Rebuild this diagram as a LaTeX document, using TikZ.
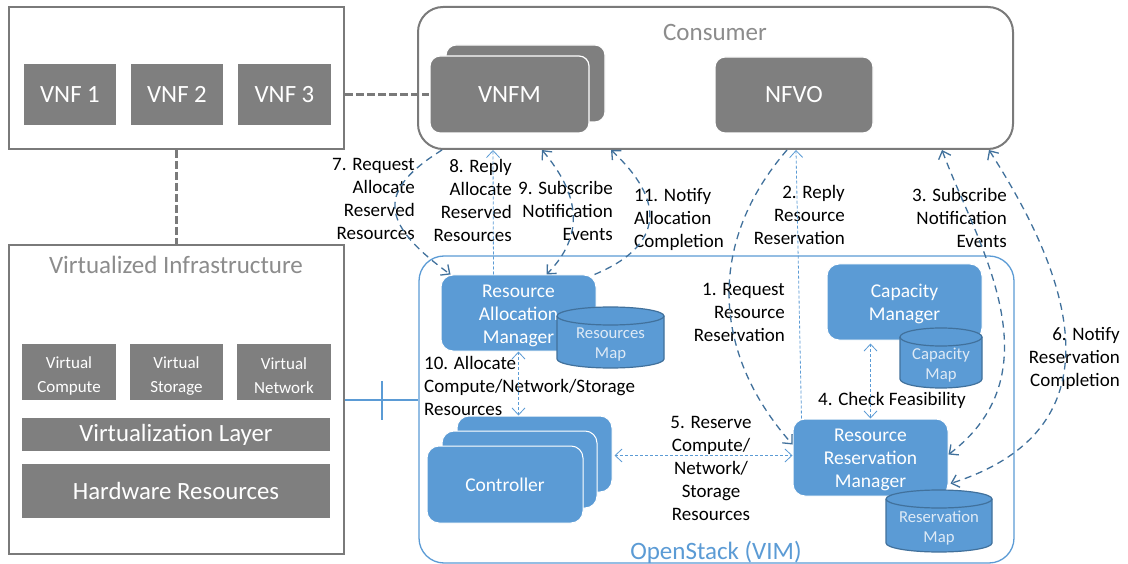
\documentclass[tikz,border=0pt]{standalone}
\usepackage{fontspec}
\setmainfont{Carlito}
\usetikzlibrary{arrows.meta}
\definecolor{gbox}{HTML}{7F7F7F}
\definecolor{gline}{HTML}{7A7A7A}
\definecolor{bfill}{HTML}{5B9BD5}
\definecolor{bdark}{HTML}{41719C}
\definecolor{gtext}{HTML}{8C8C8C}
\definecolor{lighttxt}{HTML}{DEEAF6}
\newcommand{\tallstrut}{\rule{0pt}{18pt}}
\newcommand{\tallerstrut}{\rule{0pt}{19.5pt}}
\tikzset{
  x=1pt,y=-1pt,
  frame/.style={draw=gline,line width=2pt,fill=white,inner sep=0pt},
  vibox/.style={fill=gbox,text=white,inner sep=0pt,align=center,font=\fontsize{24.8}{28}\selectfont},
  vsmall/.style={vibox,font=\fontsize{17}{24}\selectfont},
  gbig/.style={fill=gbox,draw=white,line width=1.2pt,rounded corners=10pt,text=white,inner sep=0pt,font=\fontsize{24.8}{28}\selectfont},
  bbox/.style={fill=bfill,draw=white,line width=1pt,rounded corners=12pt,text=white,inner sep=0pt,align=center,font=\fontsize{19.5}{23}\selectfont},
  cylbody/.style={draw=bdark,line width=1.2pt,fill=bfill},
  cyltext/.style={text=lighttxt,inner sep=0pt,align=center,font=\fontsize{16.7}{20}\selectfont},
  titletxt/.style={inner sep=0pt,font=\fontsize{25}{28}\selectfont},
  lbl/.style={inner sep=0pt,text=black,font=\fontsize{19}{23}\selectfont},
  lblr/.style={lbl,align=right,anchor=north east},
  lbll/.style={lbl,align=left,anchor=north west},
  darkflow/.style={draw=bdark,line width=1.3pt,dash pattern=on 7pt off 5pt},
  lightflow/.style={draw=bfill,line width=0.8pt,dash pattern=on 3pt off 2pt},
  greyconn/.style={draw=gline,line width=2.2pt,dash pattern=on 8pt off 3pt},
  blueline/.style={draw=bfill,line width=1.6pt},
  ah/.tip={Straight Barb[length=7pt,width=13pt]}
}
% name, left x, top y, width, height, text
\newcommand{\cylnode}[6]{%
  \draw[cylbody] (#2,{#3+9}) -- ++(0,{#5-18})
     arc[start angle=180,end angle=360,x radius={#4/2*1pt},y radius=9pt]
     -- ++(0,{18-#5})
     arc[start angle=0,end angle=180,x radius={#4/2*1pt},y radius=9pt] -- cycle;
  \draw[cylbody,fill=none] (#2,{#3+9})
     arc[start angle=180,end angle=360,x radius={#4/2*1pt},y radius=9pt];
  \node[cyltext] (#1) at ({#2+#4/2},{#3+#5/2+7}) {#6};
}
\begin{document}
\begin{tikzpicture}
\useasboundingbox (0,0) rectangle (1128,564);
% frames
\node[frame,minimum width=335,minimum height=142] (vnfframe) at (176.5,78) {};
\node[frame,rounded corners=25pt,minimum width=595,minimum height=142] (consumer) at (715.5,78) {};
\node[titletxt,text=gtext] (consumertxt) at (715,32) {Consumer};
\node[frame,minimum width=335,minimum height=309] (vi) at (176.5,399.5) {};
\node[titletxt,text=gtext] (vitxt) at (176,265) {Virtualized Infrastructure};
\node[draw=bfill,line width=1.3pt,rounded corners=25pt,fill=white,inner sep=0pt,minimum width=595,minimum height=307] (vim) at (716.5,409.5) {};
\node[titletxt,text=bfill] (vimtxt) at (716,552) {OpenStack (VIM)};
% VNFs
\node[vibox,minimum width=92,minimum height=61] (v1) at (70,94.5) {VNF 1};
\node[vibox,minimum width=92,minimum height=61] (v2) at (177,94.5) {VNF 2};
\node[vibox,minimum width=93,minimum height=61] (v3) at (284.5,94.5) {VNF 3};
% consumer contents
\node[gbig,minimum width=159,minimum height=77] (vnfmb) at (525.5,83.5) {};
\node[gbig,minimum width=159,minimum height=77] (vnfm) at (509.5,94.5) {VNFM};
\node[gbig,minimum width=158,minimum height=76] (nfvo) at (794,95) {NFVO};
% virtual infra contents
\node[vsmall,minimum width=94,minimum height=56] (vc) at (69,372) {\tallerstrut Virtual\\Compute};
\node[vsmall,minimum width=93,minimum height=56] (vs) at (176.5,372) {\tallerstrut Virtual\\Storage};
\node[vsmall,minimum width=94,minimum height=56] (vn) at (284,372) {\tallerstrut Virtual\\Network};
\node[vibox,minimum width=308,minimum height=33] (vl) at (176,434.5) {Virtualization Layer};
\node[vibox,minimum width=308,minimum height=54] (hw) at (176,491) {Hardware Resources};
% VIM contents
\node[bbox,minimum width=155,minimum height=76] (ram) at (518.5,313) {\tallstrut Resource\\Allocation\\Manager};
\cylnode{rmap}{557}{307}{107}{61}{Resources\\Map}
\node[bbox,minimum width=155,minimum height=76] (cap) at (904.5,302) {\tallstrut Capacity\\Manager};
\cylnode{cmap}{900}{328}{82}{60}{Capacity\\Map}
\node[bbox,minimum width=155,minimum height=77] (rrm) at (870.5,457.5) {\tallstrut Resource\\Reservation\\Manager};
\cylnode{resmap}{886}{490}{106}{62}{Reservation\\Map}
\node[bbox,minimum width=155,minimum height=76] (ctlb) at (534.5,454) {};
\node[bbox,minimum width=155,minimum height=77] (ctlm) at (519.5,469.5) {};
\node[bbox,minimum width=156,minimum height=77] (ctl) at (505,484.5) {Controller};
% grey and blue connectors
\draw[greyconn] (vnfframe.east |- vnfm.west) -- (vnfm.west);
\draw[greyconn] (vnfframe.south) -- (vi.north);
\coordinate (barL) at (vi.east |- 0,400);
\coordinate (barR) at (vim.west |- 0,400);
\coordinate (crossT) at (382,381);
\coordinate (crossB) at (382,420);
\draw[blueline] (barL) -- (barR);
\draw[blueline] (crossT) -- (crossB);
% labels
\node[lblr] (l7) at (415,158.5) {7. Request\\Allocate\\Reserved\\Resources};
\node[lblr] (l8) at (512,159.5) {8. Reply\\Allocate\\Reserved\\Resources};
\node[lblr] (l9) at (613,181.5) {9. Subscribe\\Notification\\Events};
\node[lbll] (l11) at (634,188.5) {11. Notify\\Allocation\\Completion};
\node[lblr] (l2) at (845,185.5) {2. Reply\\Resource\\Reservation};
\node[lblr] (l3) at (1007,188.5) {3. Subscribe\\Notification\\Events};
\node[lblr] (l1) at (785,283.5) {1. Request\\Resource\\Reservation};
\node[lblr] (l6) at (1120,327.5) {6. Notify\\Reservation\\Completion};
\node[lbll] (l4) at (818,392.5) {4. Check Feasibility};
\node[lbl,align=center,anchor=north] (l5) at (711,416.5) {5. Reserve\\Compute/\\Network/\\Storage\\Resources};
\node[lbll] (l10) at (424,356.5) {10. Allocate\\Compute/Network/Storage\\Resources};
% flows: dark
\draw[darkflow,-ah] ([xshift=25pt]consumer.south west) .. controls (378,190) and (378,222) .. ([xshift=10pt]ram.north west);
\draw[darkflow,ah-ah] ([xshift=125pt]consumer.south west) .. controls (580,195) and (585,235) .. ([xshift=106pt]ram.north west);
\draw[darkflow,-ah] ([xshift=-2pt]ram.north east) .. controls (665,245) and (665,200) .. ([xshift=194pt]consumer.south west);
\draw[darkflow,-ah] ([xshift=370pt]consumer.south west) .. controls (709,240) and (709,350) .. ([yshift=-26pt]rrm.north west);
\draw[darkflow,ah-ah] ([xshift=525pt]consumer.south west) .. controls (975,240) and (1060,370) .. ([yshift=-36pt]rrm.north east);
\draw[darkflow,ah-ah] ([xshift=572pt]consumer.south west) .. controls (1040,230) and (1150,420) .. ([xshift=2pt,yshift=13pt]rrm.south east);
% flows: light
\draw[lightflow,-ah] ([xshift=53pt]ram.north west) -- ([xshift=76pt]consumer.south west);
\draw[lightflow,-ah] ([xshift=9pt]rrm.north west) -- ([xshift=379pt]consumer.south west);
\draw[lightflow,ah-ah] (ram.south) -- (ctlb.north -| ram.south);
\draw[lightflow,ah-ah] ([yshift=-3pt]cap.south -| rrm.north) -- (rrm.north);
\draw[lightflow,ah-ah] ([xshift=2pt,yshift=2pt]ctlb.east |- rrm.west) -- ([yshift=2pt]rrm.west);
\end{tikzpicture}
\end{document}
